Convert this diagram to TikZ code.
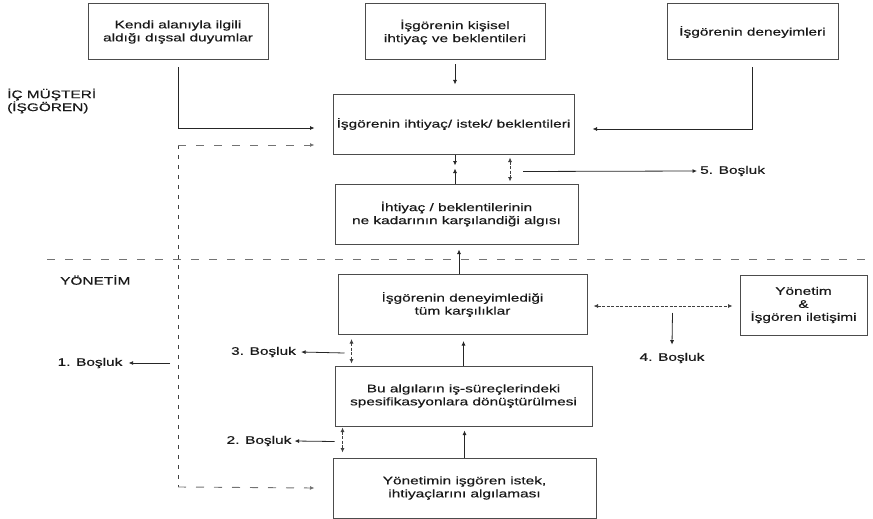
\documentclass[tikz,border=0pt]{standalone}
\usepackage{fontspec}
\setmainfont{Liberation Sans}[FakeStretch=1.4, FakeBold=0.4]
\usetikzlibrary{arrows.meta,positioning,calc}

\begin{document}
\begin{tikzpicture}[x=1pt, y=-1pt,
    every node/.style={font=\fontsize{11}{13}\selectfont, text=black!90, align=center, inner sep=0pt},
    box/.style={draw=black!70, line width=1pt, minimum height=60pt},
    arr/.style={-{Latex[length=4.5pt,width=4pt]}, line width=0.8pt, black!85},
    darr/.style={{Latex[length=4.5pt,width=4pt]}-{Latex[length=4.5pt,width=4pt]}, line width=0.8pt, black!75, dash pattern=on 3pt off 1.5pt},
    gaph/.style={dash pattern=on 8pt off 10pt, line width=0.9pt, black!55},
    gapv/.style={dash pattern=on 4pt off 6pt, line width=0.9pt, black!75}
]
\useasboundingbox (0,0) rectangle (873,519);

% Row 0 — outer sources
\node[box, minimum width=180pt, minimum height=56pt] (dis)     at (178,32)   {Kendi alanıyla ilgili\\aldığı dışsal duyumlar};
\node[box, minimum width=180pt, minimum height=56pt] (kisisel) at (455,32)   {İşgörenin kişisel\\ihtiyaç ve beklentileri};
\node[box, minimum width=171pt, minimum height=56pt] (deney)   at (752.5,32) {İşgörenin deneyimleri};

% Row 1 — employee side
\node[box, minimum width=241pt] (ihtiyac) at (453.5,124) {İşgörenin ihtiyaç/ istek/ beklentileri};
\node[box, minimum width=243pt] (alg)     at (456.5,214) {İhtiyaç / beklentilerinin\\ne kadarının karşılandiği algısı};

% Side titles and separator
\node[anchor=west, align=left, font=\fontsize{11}{11.5}\selectfont] (icm) at (7,101) {İÇ MÜŞTERİ\\(İŞGÖREN)};
\node[anchor=west] (yon) at (60,280) {YÖNETİM};
\draw[gaph] (47,259) -- (870,259);

% Rows 2-4 — management side
\node[box, minimum width=249pt] (kars)   at (462.5,304.5) {İşgörenin deneyimlediği\\tüm karşılıklar};
\node[box, minimum width=257pt] (donus)  at (463.5,396)   {Bu algıların iş-süreçlerindeki\\spesifikasyonlara dönüştürülmesi};
\node[box, minimum width=263pt] (yonalg) at (464.5,488)   {Yönetimin işgören istek,\\ihtiyaçlarını algılaması};
\node[box, minimum width=127pt] (ilet)   at (803.5,305)   {Yönetim\\\&\\İşgören iletişimi};

% Gap labels
\node (b1) at (90,363)    {1. Boşluk};
\node (b2) at (259,441)   {2. Boşluk};
\node (b3) at (263.5,352) {3. Boşluk};
\node (b4) at (672,358)   {4. Boşluk};
\node[anchor=west] (b5) at (700,171) {5. Boşluk};

% Dashed bracket on the left
\coordinate (brtop) at (178,145);
\coordinate (brbot) at (178,487);
\coordinate (brmid) at (170,363);
\draw[gapv] (brtop) -- (brbot);
\draw[gaph, -{Latex[length=4.5pt,width=4pt]}] (brtop) -- ($(ihtiyac.west)+(-18,21)$);
\draw[gaph, -{Latex[length=4.5pt,width=4pt]}] (brbot) -- ($(yonalg.west)+(-18,0)$);
\draw[arr] (brmid) -- ($(b1.east)+(6,0)$);

% Arrows — top row into needs
\draw[arr] ($(dis.south)+(0,7)$) |- ($(ihtiyac.west)+(-18,4)$);
\draw[arr] ($(deney.south)+(0,7)$) |- ($(ihtiyac.east)+(18,5)$);
\draw[arr] ($(kisisel.south)+(0,4)$) -- ($(kisisel.south |- ihtiyac.north)+(0,-9)$);

% Arrows — needs and perception
\draw[arr] ($(ihtiyac.south)+(1.5,0)$) -- ++(0,11);
\draw[arr] ($(alg.north)+(-1.5,0)$) -- ++(0,-15);
\draw[darr] ($(ihtiyac.south)+(56.5,3)$) -- ($(alg.north)+(53.5,-2)$);
\draw[arr] ($(ihtiyac.south)+(69.5,17)$) -- ($(b5.west)+(-3,0)$);
\draw[arr] ($(kars.north)+(-3.5,0)$) -- ($(alg.south)+(2.5,5)$);

% Arrows — management chain
\draw[darr] ($(kars.east)+(6,1.5)$) -- ($(ilet.west)+(-7,1)$);
\draw[arr] ($(kars.east)+(85,8.5)$) -- ($(b4.north)+(0,-8)$);
\draw[arr] (donus.north) -- ($(donus.north |- kars.south)+(0,6)$);
\draw[arr] (yonalg.north) -- ($(yonalg.north |- donus.south)+(0,4)$);
\draw[darr] ($(kars.south west)+(14,4)$) -- ($(kars.south west |- donus.north)+(14,-2)$);
\draw[darr] ($(donus.south west)+(8,1)$) -- ($(donus.south west |- yonalg.north)+(8,-5)$);
\draw[arr] ($(kars.south west)+(7,18)$) -- ($(b3.east)+(5,0)$);
\draw[arr] ($(donus.south west)+(0,15)$) -- ($(b2.east)+(3,0)$);
\end{tikzpicture}
\end{document}
